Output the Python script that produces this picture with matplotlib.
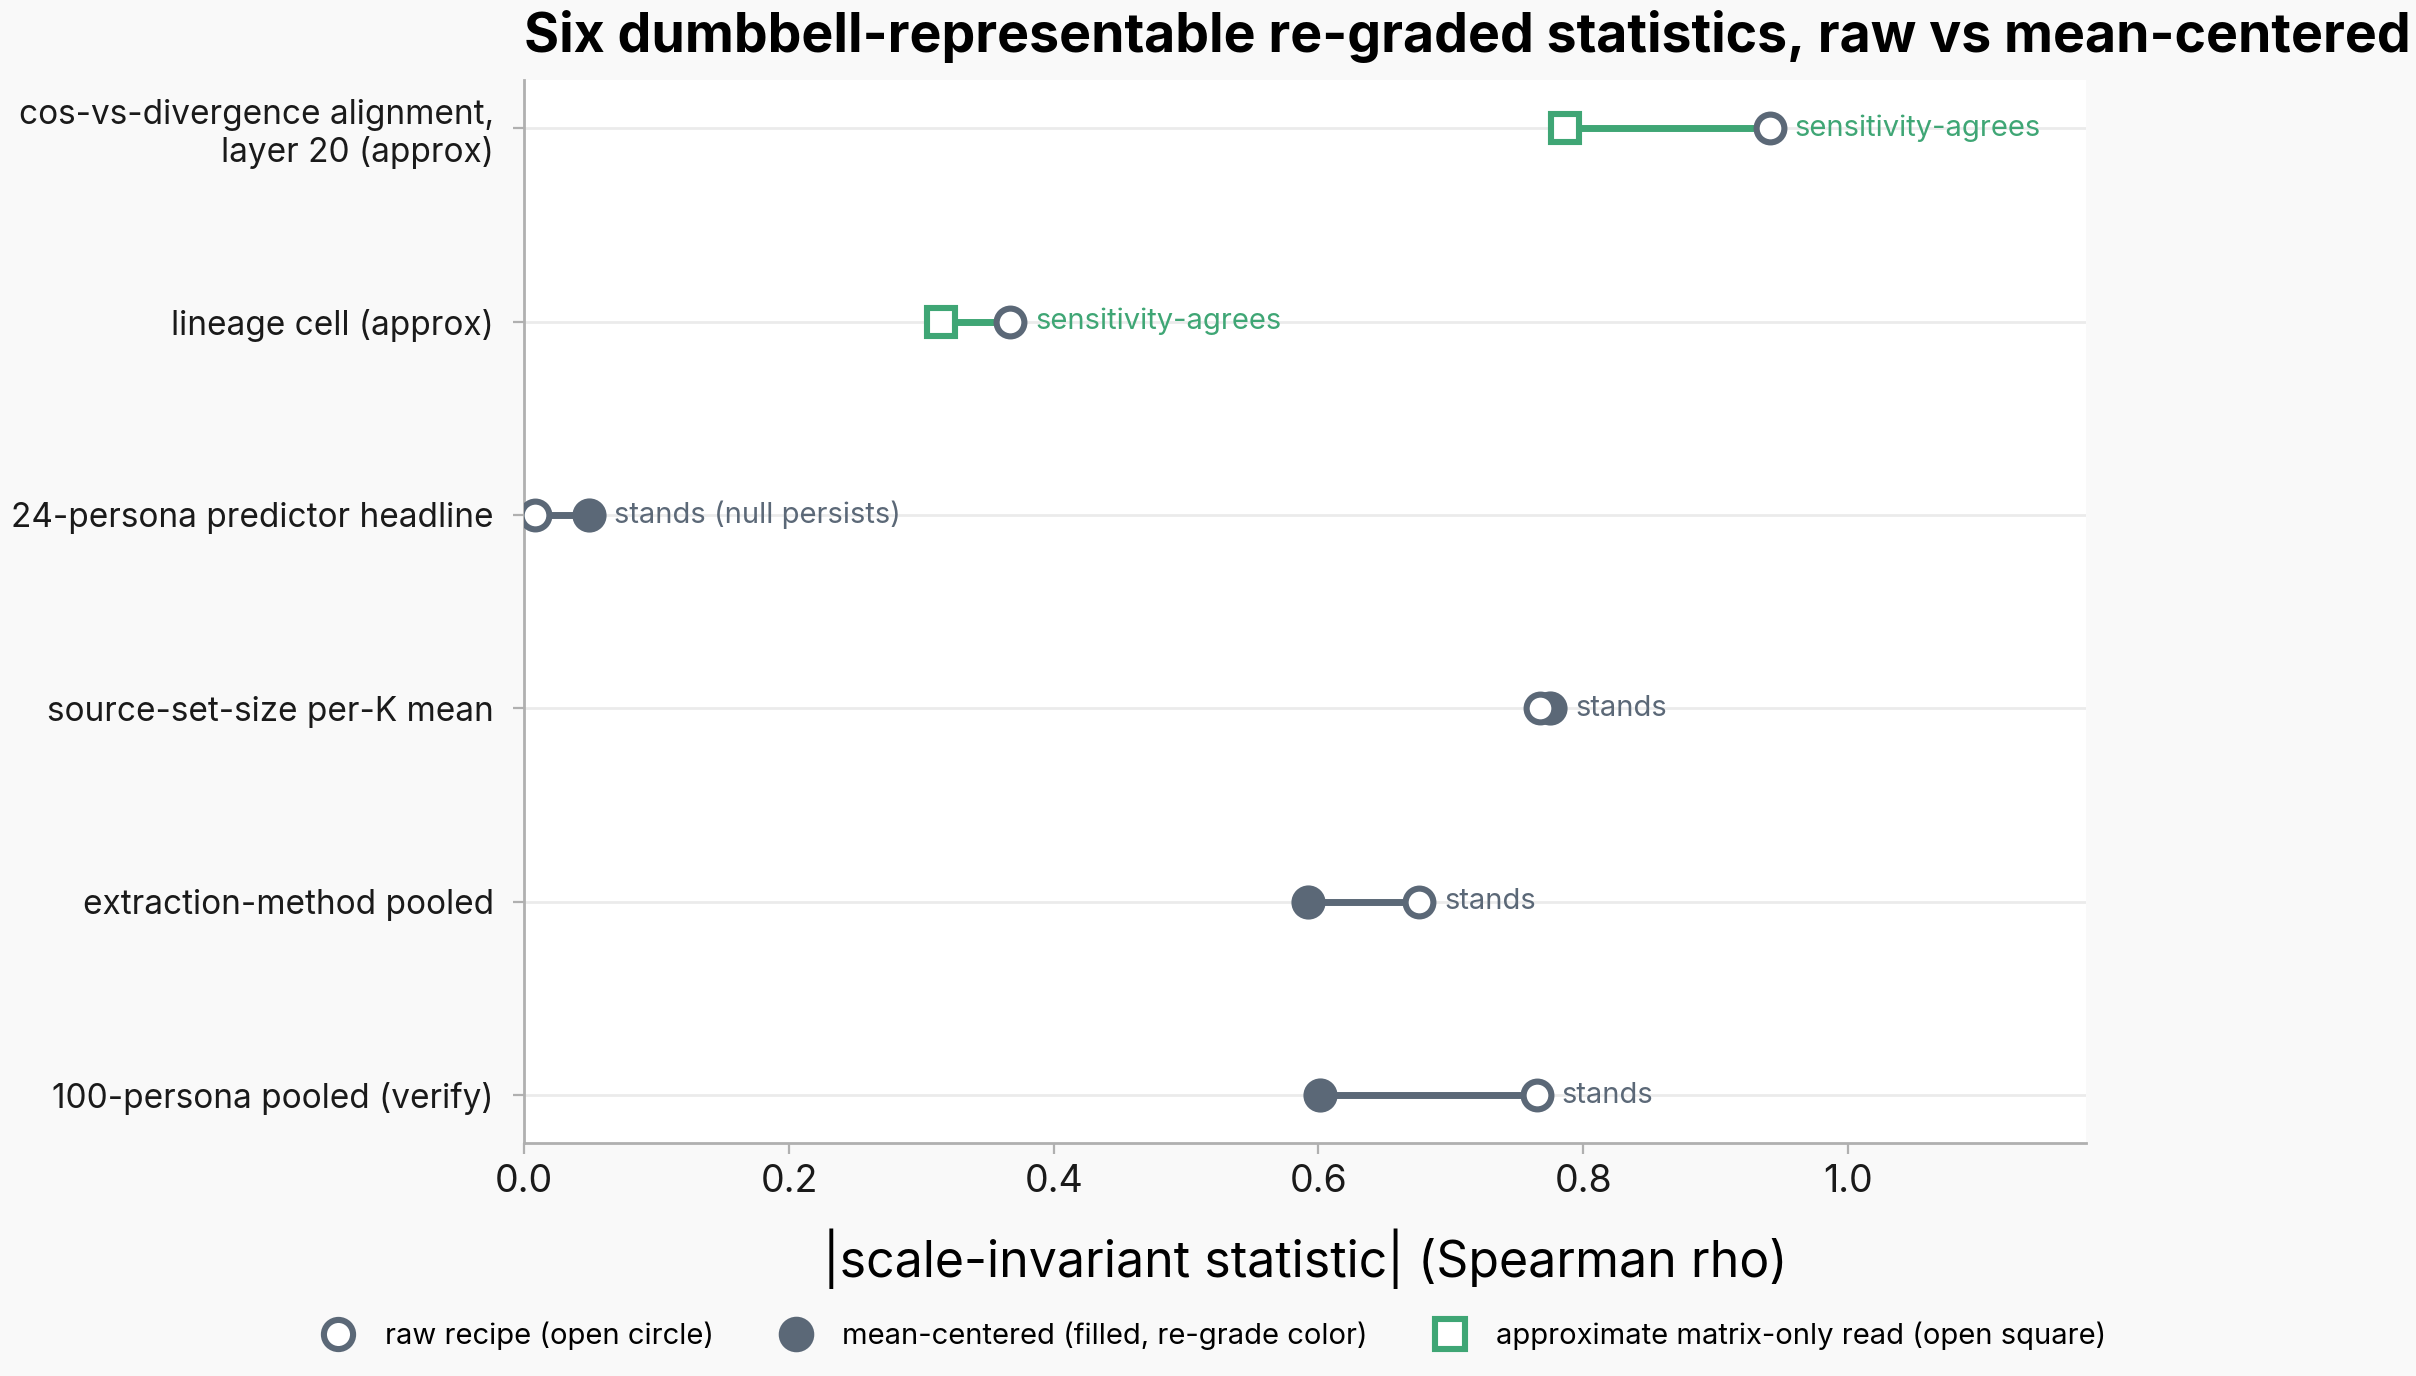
import matplotlib
matplotlib.use('Agg')
import matplotlib.pyplot as plt
from matplotlib.lines import Line2D

plt.rcParams['font.family'] = ['Inter', 'DejaVu Sans']

# Data (bottom row first)
labels = ['100-persona pooled (verify)', 'extraction-method pooled',
          'source-set-size per-K mean', '24-persona predictor headline',
          'lineage cell (approx)', 'cos-vs-divergence alignment,\nlayer 20 (approx)']
raw = [0.765, 0.676, 0.767, 0.008, 0.367, 0.941]
centered = [0.601, 0.592, 0.775, 0.049, 0.315, 0.786]
approx = [False, False, False, False, True, True]
verdicts = ['stands', 'stands', 'stands', 'stands (null persists)',
            'sensitivity-agrees', 'sensitivity-agrees']

GRAY = '#5b6877'
GREEN = '#3fa675'

fig = plt.figure(figsize=(12.08, 6.88), dpi=200, facecolor='#f9f9f9')
ax = fig.add_axes([0.217, 0.169, 0.6465, 0.773])
ax.set_facecolor('white')

for i, (r, c, ap, v) in enumerate(zip(raw, centered, approx, verdicts)):
    col = GREEN if ap else GRAY
    ax.plot([r, c], [i, i], color=col, lw=2.5, zorder=2, solid_capstyle='butt')
    if ap:
        ax.plot(c, i, marker='s', ms=10, mfc='white', mec=GREEN, mew=2.2, zorder=3, ls='none')
    else:
        ax.plot(c, i, marker='o', ms=10.5, mfc=GRAY, mec=GRAY, mew=1.8, zorder=3, ls='none')
    ax.plot(r, i, marker='o', ms=10, mfc='white', mec=GRAY, mew=2.2, zorder=4, ls='none')
    ax.annotate(v, xy=(max(r, c), i), xytext=(9, 0), textcoords='offset points',
                va='center', ha='left', fontsize=10.5, color=col)

ax.set_yticks(range(len(labels)))
ax.set_yticklabels(labels, fontsize=12, color='#1a1a1a')
ax.set_ylim(-0.25, 5.25)
ax.set_xlim(0, 1.18)
ax.set_xticks([0.0, 0.2, 0.4, 0.6, 0.8, 1.0])
ax.tick_params(axis='x', labelsize=13.5, length=4, color='#b0b0b0', labelcolor='#1a1a1a')
ax.tick_params(axis='y', length=4, pad=7, color='#b0b0b0')
ax.grid(axis='y', color='#ebebeb', lw=1)
ax.set_axisbelow(True)
for s in ['top', 'right']:
    ax.spines[s].set_visible(False)
for s in ['left', 'bottom']:
    ax.spines[s].set_color('#b0b0b0')
    ax.spines[s].set_linewidth(1)

ax.set_xlabel('|scale-invariant statistic| (Spearman rho)', fontsize=18, labelpad=10)
ax.set_title('Six dumbbell-representable re-graded statistics, raw vs mean-centered',
             fontsize=19.3, fontweight='bold', loc='left', pad=10)

handles = [
    Line2D([], [], ls='none', marker='o', ms=10.5, mfc='white', mec=GRAY, mew=2.2),
    Line2D([], [], ls='none', marker='o', ms=11, mfc=GRAY, mec=GRAY, mew=1.8),
    Line2D([], [], ls='none', marker='s', ms=10.5, mfc='white', mec=GREEN, mew=2.2),
]
fig.legend(handles, ['raw recipe (open circle)', 'mean-centered (filled, re-grade color)',
                     'approximate matrix-only read (open square)'],
           loc='lower center', bbox_to_anchor=(0.5, 0.0), ncol=3, frameon=False,
           fontsize=10.5, columnspacing=1.8, handletextpad=0.6)

fig.savefig('out.png', dpi=200, facecolor=fig.get_facecolor())
